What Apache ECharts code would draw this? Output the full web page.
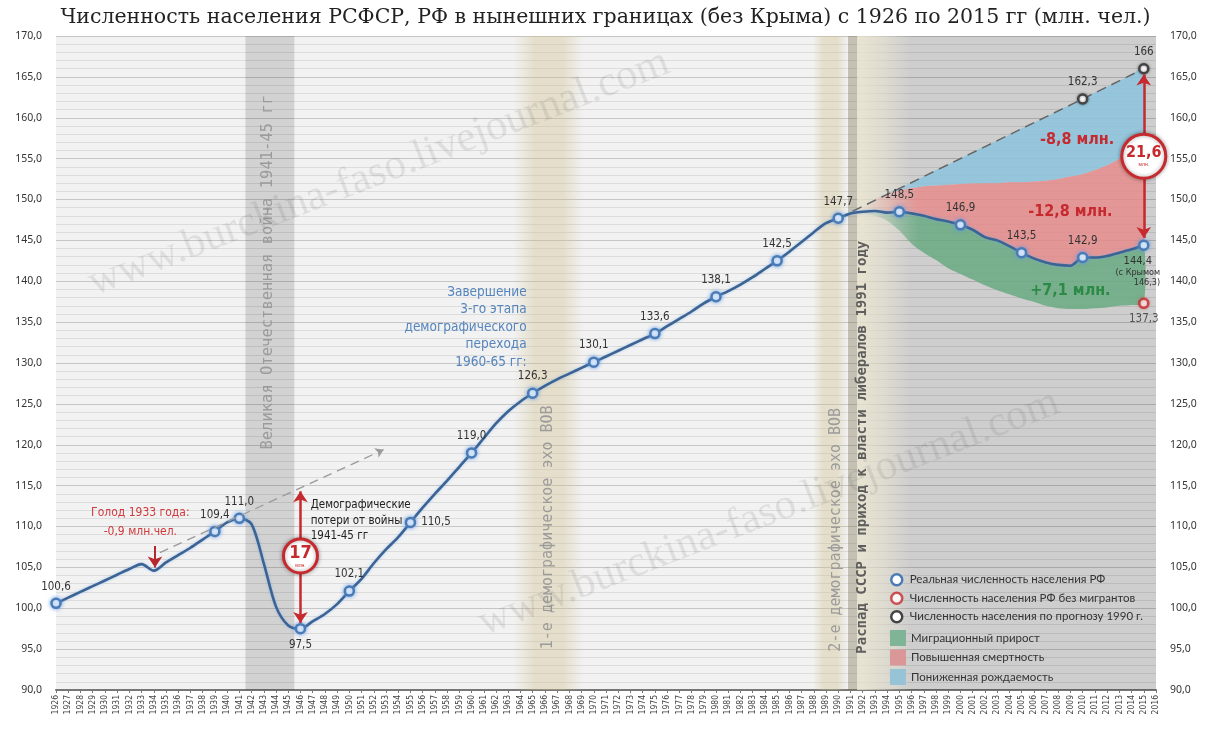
<!DOCTYPE html>
<html>
<head>
<meta charset="utf-8">
<script src="https://cdn.jsdelivr.net/npm/echarts@6/dist/echarts.min.js"></script>
<style>
html,body{margin:0;padding:0;background:#fff}
#chart{width:1211px;height:734px}
</style>
</head>
<body>
<div id="chart"></div>
<script>
// годы 1926..2015, реальная численность (млн)
var firstYear = 1926;
var population = [
  100.6, 101.3, 102.0, 102.7, 103.4, 104.1, 104.8, 105.4, 104.6, 105.6,
  106.5, 107.4, 108.4, 109.4, 110.5, 111.0, 110.3, 105.5, 100.2, 97.9,
  97.5, 98.4, 99.3, 100.5, 102.1, 103.6, 105.5, 107.2, 108.7, 110.5,
  112.3, 114.0, 115.6, 117.3, 119.0, 120.8, 122.6, 124.1, 125.3, 126.3,
  127.2, 128.0, 128.7, 129.4, 130.1, 130.8, 131.5, 132.2, 132.9, 133.6,
  134.5, 135.4, 136.3, 137.3, 138.1, 138.8, 139.6, 140.5, 141.5, 142.5,
  143.6, 144.8, 146.0, 147.1, 147.7, 148.3, 148.5, 148.6, 148.4, 148.5,
  148.3, 148.0, 147.6, 147.3, 146.9, 146.3, 145.4, 145.0, 144.3, 143.5,
  142.8, 142.3, 142.0, 141.9, 142.9, 142.9, 143.1, 143.5, 143.9, 144.4
];
var markedYears = [1926, 1939, 1941, 1946, 1950, 1955, 1960, 1965, 1970, 1975,
  1980, 1985, 1990, 1995, 2000, 2005, 2010, 2015];

// зоны 1992..2015
var zoneFirstYear = 1992;
var migrationEdge = [148.3, 148.0, 147.4, 146.2, 144.6, 143.5, 142.6, 141.6, 140.9, 140.2,
  139.5, 138.9, 138.4, 137.9, 137.5, 137.0, 136.7, 136.6, 136.6, 136.7, 136.8, 137.0, 137.1, 137.3];
var mortalityEdge = [149.0, 150.0, 150.7, 151.1, 151.4, 151.6, 151.7, 151.8, 151.9, 151.95,
  152.0, 152.0, 152.1, 152.1, 152.2, 152.3, 152.5, 152.8, 153.1, 153.6, 154.2, 155.0, 156.0, 157.2];
var forecastEdge = [149.2, 150.1, 150.8, 151.4, 152.1, 152.8, 153.6, 154.3, 155.0, 155.8,
  156.5, 157.2, 157.9, 158.7, 159.4, 160.1, 160.9, 161.6, 162.3, 163.1, 163.8, 164.5, 165.3, 166.0];

var forecastYears = [1990, 2010, 2015];
var forecastValues = [147.7, 162.3, 166.0];
var noMigrantsYear = 2015;
var noMigrantsValue = 137.3;
var withCrimea2015 = 146.3;

var yMin = 90, yMax = 170, yStep = 5;

var chart = echarts.init(document.getElementById('chart'));
var CND = "'Liberation Sans Narrow','DejaVu Sans Condensed',sans-serif";
var MONO = "'DejaVu Sans Mono',monospace";
var RED = '#c62a2f';

function fmt(v) { return v.toFixed(1).replace('.', ','); }
function fade(rgb, a) {
  return new echarts.graphic.LinearGradient(0, 0, 1, 0, [
    {offset: 0, color: 'rgba(' + rgb + ',0)'},
    {offset: 0.2, color: 'rgba(' + rgb + ',' + a + ')'},
    {offset: 1, color: 'rgba(' + rgb + ',' + a + ')'}]);
}
function beige(a, rgb) {
  rgb = rgb || '205,190,140';
  return {type: 'linear', x: 0, y: 0, x2: 1, y2: 0, colorStops: [
    {offset: 0, color: 'rgba(' + rgb + ',0)'},
    {offset: 0.3, color: 'rgba(' + rgb + ',' + a + ')'},
    {offset: 0.7, color: 'rgba(' + rgb + ',' + a + ')'},
    {offset: 1, color: 'rgba(' + rgb + ',0)'}]};
}

var labelPos = {1946: 'bottom', 1955: 'right'};
var popData = population.map(function (v, i) {
  var yr = firstYear + i;
  if (markedYears.indexOf(yr) < 0) return {value: [yr, v], symbol: 'none'};
  var it = {value: [yr, v], symbol: 'circle', symbolSize: 9,
    label: {show: true, position: labelPos[yr] || 'top', distance: 5}};
  if (yr === 2015) {
    it.label = {show: true, position: 'bottom', distance: 4, offset: [-6, 0],
      formatter: '{a|' + fmt(v) + '}\n{b|(с Крымом}\n{b|' + fmt(withCrimea2015) + ')}',
      rich: {a: {fontSize: 11, color: '#333', fontFamily: CND, lineHeight: 13},
             b: {fontSize: 9, color: '#333', fontFamily: CND, lineHeight: 10, align: 'right'}}};
  }
  return it;
});

var zoneYears = migrationEdge.map(function (v, i) { return zoneFirstYear + i; });
var realZone = zoneYears.map(function (y) { return population[y - firstYear]; });

// полигон между двумя кривыми, через шкалы осей
function zoneRenderer(low, high, fill) {
  return function (params, api) {
    var pts = [], i;
    for (i = 0; i < zoneYears.length; i++) pts.push(api.coord([zoneYears[i], high[i]]));
    for (i = zoneYears.length - 1; i >= 0; i--) pts.push(api.coord([zoneYears[i], low[i]]));
    return {type: 'polygon', shape: {points: pts, smooth: 0.25}, style: {fill: fill}, silent: true};
  };
}

var forecastData = forecastYears.map(function (y, i) {
  return i === 0 ? {value: [y, forecastValues[i]], symbol: 'none'}
                 : {value: [y, forecastValues[i]], symbol: 'circle', symbolSize: 9,
                    label: {show: true, position: 'top', distance: 5}};
});

function note(coord, text, o) {
  var lab = {show: true, formatter: text, position: o.pos || 'inside', distance: 0,
    color: o.color || '#333', fontSize: o.size || 12, fontFamily: o.font || CND,
    fontWeight: o.weight || 'normal', lineHeight: o.lh || undefined};
  if (o.rotate) lab.rotate = o.rotate;
  return {coord: coord, symbol: 'circle', symbolSize: 1, itemStyle: {color: 'rgba(0,0,0,0)'}, label: lab};
}
function ring(coord, size, big, bigSize) {
  return {coord: coord, symbol: 'circle', symbolSize: size,
    itemStyle: {color: '#fff', borderColor: RED, borderWidth: 3, shadowBlur: 4, shadowColor: 'rgba(0,0,0,0.35)'},
    label: {show: true, position: 'inside', formatter: '{a|' + big + '}\n{b|млн.}',
      rich: {a: {fontSize: bigSize, fontWeight: 'bold', color: RED, fontFamily: CND, lineHeight: bigSize + 1},
             b: {fontSize: 5, color: RED, lineHeight: 6}}}};
}

var legendText = {fontFamily: 'Lato', fontSize: 11.5, color: '#333'};

var option = {
  animation: false,
  backgroundColor: '#fff',
  title: {
    text: 'Численность населения РСФСР, РФ в нынешних границах (без Крыма) с 1926 по 2015 гг (млн. чел.)',
    left: 'center', top: 2,
    textStyle: {fontFamily: "'DejaVu Serif',serif", fontSize: 20.5, fontWeight: 'normal', color: '#222'}
  },
  grid: {left: 56, right: 55, top: 36, bottom: 44, show: true, backgroundColor: '#f2f2f2', borderWidth: 0,
    outerBoundsMode: 'none'},
  legend: [
    {left: 885, top: 568, orient: 'vertical', itemWidth: 16, itemHeight: 11, itemGap: 5, selectedMode: false,
      textStyle: legendText,
      data: [
        {name: 'Реальная численность населения РФ', icon: 'circle',
          itemStyle: {color: '#fff', borderColor: '#4a7bb5', borderWidth: 2.5}},
        {name: 'Численность населения РФ без мигрантов', icon: 'circle',
          itemStyle: {color: '#fff', borderColor: RED, borderWidth: 2.5}},
        {name: 'Численность населения по прогнозу 1990 г.', icon: 'circle',
          itemStyle: {color: '#fff', borderColor: '#444', borderWidth: 2.5}}
      ]},
    {left: 885, top: 625, orient: 'vertical', itemWidth: 16, itemHeight: 16, itemGap: 3.5, selectedMode: false,
      textStyle: legendText,
      data: [
        {name: 'Миграционный прирост', icon: 'rect', itemStyle: {color: '#80b497'}},
        {name: 'Повышенная смертность', icon: 'rect', itemStyle: {color: '#d99797'}},
        {name: 'Пониженная рождаемость', icon: 'rect', itemStyle: {color: '#97c3d6'}}
      ]}
  ],
  xAxis: {
    type: 'value', min: 1926, max: 2016, interval: 1,
    axisLine: {lineStyle: {color: '#777', width: 2}},
    axisTick: {show: true, length: 3, lineStyle: {color: '#777'}},
    axisLabel: {rotate: 90, fontSize: 8.5, color: '#444', margin: 5, fontFamily: CND,
      formatter: function (v) { return String(v); }},
    splitLine: {show: false}
  },
  yAxis: [
    {type: 'value', min: yMin, max: yMax, interval: yStep, position: 'left',
      axisLine: {show: false}, axisTick: {show: false},
      axisLabel: {formatter: fmt, fontSize: 10.5, color: '#333', margin: 14, fontFamily: "'Noto Sans',sans-serif"},
      splitLine: {lineStyle: {color: '#c6c6c6'}},
      minorTick: {show: false, splitNumber: 5},
      minorSplitLine: {show: true, lineStyle: {color: '#dcdcdc'}}},
    {type: 'value', min: yMin, max: yMax, interval: yStep, position: 'right',
      axisLine: {show: false}, axisTick: {show: false},
      axisLabel: {formatter: fmt, fontSize: 10.5, color: '#333', margin: 14, fontFamily: "'Noto Sans',sans-serif"},
      splitLine: {show: false}}
  ],
  series: [
    {name: 'bands', type: 'line', data: [], silent: true,
      markArea: {silent: true, z: 1, data: [
        [{xAxis: 1941.5, itemStyle: {color: 'rgba(0,0,0,0.13)'}}, {xAxis: 1945.5}],
        [{xAxis: 1963.4, itemStyle: {color: beige(0.38)}}, {xAxis: 1969.2}],
        [{xAxis: 1991.55, itemStyle: {color: 'rgba(0,0,0,0.15)'}}, {xAxis: 2016}],
        [{xAxis: 1987.9, itemStyle: {color: beige(0.38)}}, {xAxis: 1990.8}],
        [{xAxis: 1990.8, itemStyle: {color: 'rgba(120,112,80,0.38)'}}, {xAxis: 1991.55}],
        [{xAxis: 1991.55, itemStyle: {color: new echarts.graphic.LinearGradient(0, 0, 1, 0, [
          {offset: 0, color: 'rgba(238,232,210,0.85)'}, {offset: 0.5, color: 'rgba(238,232,210,0.5)'},
          {offset: 1, color: 'rgba(238,232,210,0)'}])}},
          {xAxis: 1996}]
      ]}},
    {name: 'Пониженная рождаемость', type: 'custom', z: 3, silent: true, data: [[zoneFirstYear, 0]],
      itemStyle: {color: '#97c3d6'}, renderItem: zoneRenderer(mortalityEdge, forecastEdge, fade('140,196,222', 0.85))},
    {name: 'Повышенная смертность', type: 'custom', z: 3, silent: true, data: [[zoneFirstYear, 0]],
      itemStyle: {color: '#d99797'}, renderItem: zoneRenderer(realZone, mortalityEdge, fade('232,138,138', 0.82))},
    {name: 'Миграционный прирост', type: 'custom', z: 3, silent: true, data: [[zoneFirstYear, 0]],
      itemStyle: {color: '#80b497'}, renderItem: zoneRenderer(migrationEdge, realZone, fade('105,170,130', 0.85))},
    {name: 'Численность населения по прогнозу 1990 г.', type: 'line', z: 5, silent: true,
      data: forecastData,
      lineStyle: {type: [10, 6], color: '#666', width: 1.5},
      itemStyle: {color: '#fff', borderColor: '#444', borderWidth: 2.5, shadowBlur: 3, shadowColor: 'rgba(0,0,0,0.4)'},
      label: {color: '#333', fontSize: 11.5, fontFamily: CND, formatter: function (p) {
        return p.value[1] === Math.round(p.value[1]) ? String(p.value[1]) : fmt(p.value[1]); }}},
    {name: 'Численность населения РФ без мигрантов', type: 'scatter', z: 6, silent: true,
      data: [[noMigrantsYear, noMigrantsValue]], symbolSize: 9,
      itemStyle: {color: '#fff', borderColor: RED, borderWidth: 2.5, shadowBlur: 3, shadowColor: 'rgba(200,40,40,0.5)'},
      label: {show: true, position: 'bottom', distance: 4, color: '#333', fontSize: 11.5, fontFamily: CND,
        formatter: function (p) { return fmt(p.value[1]); }}},
    {name: 'arrows', type: 'line', data: [], silent: true,
      markLine: {silent: true, z: 6, label: {show: false}, symbol: ['arrow', 'arrow'], symbolSize: 11, data: [
        [{coord: [1946, 114.3], lineStyle: {color: RED, width: 2.5, type: 'solid'}}, {coord: [1946, 98.2]}],
        [{coord: [2015, 165.3], lineStyle: {color: RED, width: 2.5, type: 'solid'}}, {coord: [2015, 145.3]}],
        [{coord: [1934.1, 107.6], symbol: 'none', lineStyle: {color: '#b5272d', width: 2, type: 'solid'}},
          {coord: [1934.1, 105.0], symbol: 'arrow'}],
        [{coord: [1934.5, 106.8], symbol: 'none', lineStyle: {color: '#9a9a9a', width: 1.3, type: [9, 6]}},
          {coord: [1952.8, 119.4], symbol: 'arrow', symbolSize: 8}]
      ]}},
    {name: 'Реальная численность населения РФ', type: 'line', z: 5, smooth: 0.3, silent: true,
      data: popData,
      lineStyle: {color: '#3b6394', width: 2.6, shadowBlur: 3, shadowColor: 'rgba(120,170,230,0.6)'},
      itemStyle: {color: '#fff', borderColor: '#4a7bb5', borderWidth: 2.5, shadowBlur: 4, shadowColor: 'rgba(90,150,230,0.8)'},
      label: {color: '#333', fontSize: 11.5, fontFamily: CND, formatter: function (p) { return fmt(p.value[1]); }}},
    {name: 'notes', type: 'line', data: [], silent: true,
      markPoint: {silent: true, z: 8, data: [
        note([1932.9, 110.5], 'Голод 1933 года:\n-0,9 млн.чел.', {color: '#d0393c', size: 12, lh: 19}),
        note([1946.8, 110.7], 'Демографические\nпотери от войны\n1941-45 гг', {pos: 'right', color: '#222', size: 11.5, lh: 15.5}),
        note([1964.55, 134.4], 'Завершение\n3-го этапа\nдемографического\nперехода\n1960-65 гг:', {pos: 'left', color: '#5585bd', size: 13.5, lh: 17.5}),
        note([1943.35, 141.1], 'Великая Отечественная война 1941-45 гг', {rotate: 90, font: MONO, size: 15.5, color: '#9b9b9b'}),
        note([1966.26, 109.9], '1-е демографическое эхо ВОВ', {rotate: 90, font: MONO, size: 15, color: '#9b9b9b'}),
        note([1989.83, 109.6], '2-е демографическое эхо ВОВ', {rotate: 90, font: MONO, size: 15, color: '#9b9b9b'}),
        note([1991.96, 119.7], 'Распад СССР и приход к власти либералов 1991 году', {rotate: 90, font: MONO, size: 14, color: '#5e5e5e', weight: 'bold'}),
        note([2009.55, 157.3], '-8,8 млн.', {color: RED, size: 16, weight: 'bold'}),
        note([2009.0, 148.5], '-12,8 млн.', {color: RED, size: 16, weight: 'bold'}),
        note([2009.0, 138.8], '+7,1 млн.', {color: '#2c8a46', size: 16, weight: 'bold'}),
        ring([1946, 106.4], 34, '17', 18),
        ring([2015, 155.3], 44, '21,6', 16)
      ]}}
  ],
  graphic: [
    {type: 'text', x: 98, y: 305, rotation: 0.37, silent: true, z: 20,
      style: {text: 'www.burckina-faso.livejournal.com', fontSize: 43, fontFamily: "'Liberation Serif',serif",
        fill: 'rgba(90,90,90,0.13)', verticalAlign: 'bottom'}},
    {type: 'text', x: 488, y: 645, rotation: 0.37, silent: true, z: 20,
      style: {text: 'www.burckina-faso.livejournal.com', fontSize: 43, fontFamily: "'Liberation Serif',serif",
        fill: 'rgba(90,90,90,0.13)', verticalAlign: 'bottom'}}
  ]
};

chart.setOption(option);
</script>
</body>
</html>
